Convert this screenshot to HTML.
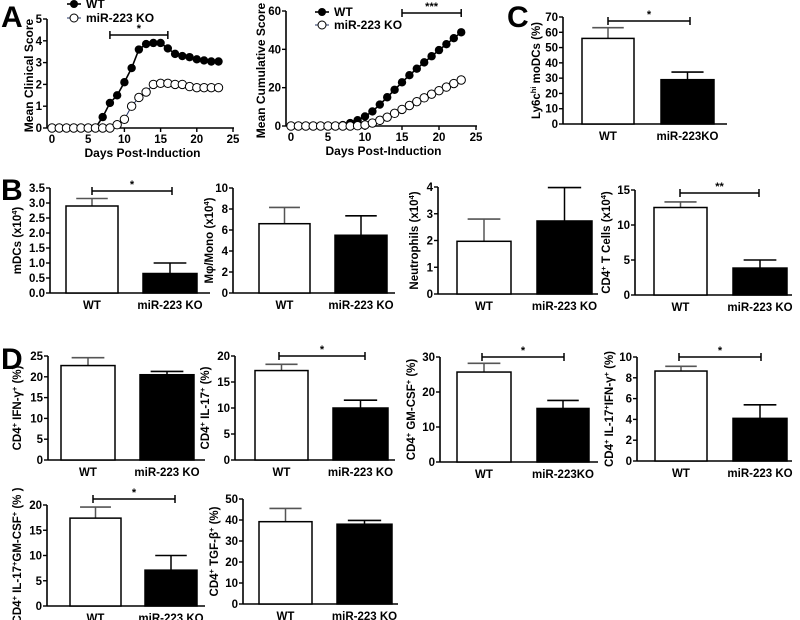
<!DOCTYPE html>
<html><head><meta charset="utf-8">
<style>
html,body{margin:0;padding:0;background:#fff;}
svg{display:block;font-family:"Liberation Sans",sans-serif;}
</style></head>
<body>
<svg id="fig" width="800" height="620" viewBox="0 0 800 620" xmlns="http://www.w3.org/2000/svg">
<text x="1" y="27" font-size="30" font-weight="bold">A</text>
<text x="1" y="200" font-size="30" font-weight="bold">B</text>
<text x="507" y="27" font-size="30" font-weight="bold">C</text>
<text x="1" y="369" font-size="30" font-weight="bold">D</text>
</svg>
<script>
// ---- Panel A data ----
const days = [0,1,2,3,4,5,6,7,8,9,10,11,12,13,14,15,16,17,18,19,20,21,22,23];
const clinicalWT = [0,0,0,0,0,0,0,0.5,1.15,1.5,2.1,2.75,3.6,3.85,3.9,3.9,3.65,3.4,3.3,3.25,3.15,3.1,3.05,3.05];
const clinicalKO = [0,0,0,0,0,0,0,0,0,0.15,0.4,1.0,1.4,1.65,2.0,2.05,2.05,2.0,2.0,1.9,1.85,1.85,1.85,1.85];
const cumulativeWT = [0,0,0,0,0,0,0,0.5,1.5,3,5,7.6,11.2,15,18.9,22.8,26.5,29.9,33.2,36.4,39.6,42.7,45.8,48.9];
const cumulativeKO = [0,0,0,0,0,0,0,0,0,0.15,0.55,1.55,2.95,4.6,6.6,8.65,10.7,12.7,14.7,16.6,18.45,20.3,22.15,24];
const dayTicks = [0,5,10,15,20,25];
const clinicalTicks = [0,1,2,3,4,5];
const cumulativeTicks = [0,20,40,60];

// ---- Bar data ----
const groups = ['WT','miR-223 KO'];
const groupsC = ['WT','miR-223KO'];
const moDCValues = [56,29], moDCErrors = [63,34], moDCTicks = [0,10,20,30,40,50,60,70];
const mdcValues = [2.9,0.65], mdcErrors = [3.15,1.0], mdcTicks = [0,0.5,1,1.5,2,2.5,3,3.5];
const macroValues = [6.6,5.5], macroErrors = [8.15,7.35], macroTicks = [0,2,4,6,8,10];
const neutroValues = [1.97,2.73], neutroErrors = [2.8,3.98], neutroTicks = [0,1,2,3,4];
const cd4Values = [12.5,3.85], cd4Errors = [13.3,5.0], cd4Ticks = [0,5,10,15];
const ifngValues = [22.7,20.5], ifngErrors = [24.6,21.3], ifngTicks = [0,5,10,15,20,25];
const il17Values = [17.2,10], il17Errors = [18.4,11.5], il17Ticks = [0,5,10,15,20];
const gmcsfValues = [25.7,15.3], gmcsfErrors = [28.2,17.6], gmcsfTicks = [0,10,20,30];
const il17ifngValues = [8.65,4.1], il17ifngErrors = [9.1,5.4], il17ifngTicks = [0,2,4,6,8,10];
const il17gmValues = [17.4,7.1], il17gmErrors = [19.6,10], il17gmTicks = [0,5,10,15,20];
const tgfbValues = [39.2,38], tgfbErrors = [45.5,39.8], tgfbTicks = [0,10,20,30,40,50];

const NS = 'http://www.w3.org/2000/svg';
const svg = document.getElementById('fig');
function mk(tag, attrs, parent, txt) {
  const e = document.createElementNS(NS, tag);
  for (const k in attrs) e.setAttribute(k, attrs[k]);
  if (txt !== undefined) e.textContent = txt;
  (parent || svg).appendChild(e);
  return e;
}
function label(parent, x, y, txt, size, anchor, rot) {
  const t = mk('text', {x:x, y:y, 'font-size':size, 'font-weight':'bold', 'text-anchor':anchor||'middle'}, parent);
  if (rot) t.setAttribute('transform', 'rotate(-90 ' + x + ' ' + y + ')');
  t.innerHTML = txt;
  return t;
}

function barPanel(name, cfg, cats, values, errors, ticks, title, dec) {
  const g = mk('g', {});
  
  
  const maxV = ticks[ticks.length-1];
  const ys = v => cfg.y0 - (v / maxV) * (cfg.y0 - cfg.yTop);
  const yax = mk('line', {x1:cfg.ax, y1:cfg.yTop, x2:cfg.ax, y2:cfg.y0, stroke:'#000', 'stroke-width':1.6}, g);
  
  
  ticks.forEach(t => {
    const y = ys(t);
    mk('line', {x1:cfg.ax-4, y1:y, x2:cfg.ax, y2:y, stroke:'#000', 'stroke-width':1.4}, g);
    const tl = label(g, cfg.ax-5, y+4, dec ? t.toFixed(1) : String(t), 11.5, 'end');
    
    
  });
  const xax = mk('line', {x1:cfg.ax, y1:cfg.y0, x2:cfg.xEnd, y2:cfg.y0, stroke:'#000', 'stroke-width':1.6}, g);
  
  
  const bx = [cfg.wt, cfg.ko];
  values.forEach((v, i) => {
    const x1 = bx[i][0], x2 = bx[i][1], cx = (x1+x2)/2;
    const ey = ys(errors[i]);
    const el = mk('line', {x1:cx, y1:ey, x2:cx, y2:ys(v), stroke: i ? '#000' : '#555', 'stroke-width':1.5}, g);
    
    
    mk('line', {x1:cx-(x2-x1)/3.3, y1:ey, x2:cx+(x2-x1)/3.3, y2:ey, stroke: i ? '#000' : '#555', 'stroke-width':1.6}, g);
    const r = mk('rect', {x:x1, y:ys(v), width:x2-x1, height:cfg.y0-ys(v), fill: i ? '#000' : '#fff', stroke:'#000', 'stroke-width':1.5}, g);
    
    
    const cl = label(g, cx, cfg.y0+16, cats[i], 11.5, 'middle');
    
    
  });
  if (cfg.sig) {
    const s = cfg.sig;
    const sg = mk('g', {}, g);
    
    
    mk('line', {x1:s[0], y1:s[2], x2:s[1], y2:s[2], stroke:'#000', 'stroke-width':1.5}, sg);
    mk('line', {x1:s[0], y1:s[2]-4, x2:s[0], y2:s[2]+4, stroke:'#000', 'stroke-width':1.5}, sg);
    mk('line', {x1:s[1], y1:s[2]-4, x2:s[1], y2:s[2]+4, stroke:'#000', 'stroke-width':1.5}, sg);
    label(sg, (s[0]+s[1])/2, s[2]-3, s[3], 11, 'middle');
  }
  const yt = label(g, cfg.tx, (cfg.y0+cfg.yTop)/2, title, 11.5, 'middle', true);
  
  
}

const sup = s => '<tspan baseline-shift="super" font-size="7.5">' + s + '</tspan>';

barPanel('panel-c-ly6c-modcs', {ax:563, y0:124, yTop:17, xEnd:727, wt:[582,634], ko:[661,714], sig:[608,690,21,'*'], tx:540},
  groupsC, moDCValues, moDCErrors, moDCTicks, 'Ly6c' + sup('hi') + ' moDCs (%)');
barPanel('panel-b-mdcs', {ax:50, y0:293, yTop:188, xEnd:210, wt:[66,118], ko:[143,197], sig:[92,172,191,'*'], tx:21},
  groups, mdcValues, mdcErrors, mdcTicks, 'mDCs (x10' + sup('4') + ')', true);
barPanel('panel-b-macrophages', {ax:233, y0:293, yTop:188, xEnd:395, wt:[259,310], ko:[335,387], tx:213},
  groups, macroValues, macroErrors, macroTicks, 'Mφ/Mono (x10' + sup('4') + ')');
barPanel('panel-b-neutrophils', {ax:438, y0:294, yTop:187, xEnd:598, wt:[457,511], ko:[537,592], tx:418},
  groups, neutroValues, neutroErrors, neutroTicks, 'Neutrophils (x10' + sup('4') + ')');
barPanel('panel-b-cd4-t-cells', {ax:635, y0:295, yTop:190, xEnd:792, wt:[654,707], ko:[733,787], sig:[680,759,193,'**'], tx:610},
  groups, cd4Values, cd4Errors, cd4Ticks, 'CD4' + sup('+') + ' T Cells (x10' + sup('4') + ')');
barPanel('panel-d-ifng', {ax:48, y0:460, yTop:356, xEnd:205, wt:[61,115], ko:[140,194], tx:21},
  groups, ifngValues, ifngErrors, ifngTicks, 'CD4' + sup('+') + ' IFN-γ' + sup('+') + ' (%)');
barPanel('panel-d-il17', {ax:235, y0:460, yTop:356, xEnd:395, wt:[255,308], ko:[333,388], sig:[279,365,356,'*'], tx:209},
  groups, il17Values, il17Errors, il17Ticks, 'CD4' + sup('+') + ' IL-17' + sup('+') + ' (%)');
barPanel('panel-d-gmcsf', {ax:440, y0:462, yTop:357, xEnd:598, wt:[457,511], ko:[537,589], sig:[482,564,357,'*'], tx:415},
  groupsC, gmcsfValues, gmcsfErrors, gmcsfTicks, 'CD4' + sup('+') + ' GM-CSF' + sup('+') + ' (%)');
barPanel('panel-d-il17-ifng', {ax:637, y0:461, yTop:357, xEnd:792, wt:[655,707], ko:[733,787], sig:[679,761,357,'*'], tx:613},
  groups, il17ifngValues, il17ifngErrors, il17ifngTicks, 'CD4' + sup('+') + ' IL-17' + sup('+') + 'IFN-γ' + sup('+') + ' (%)');
barPanel('panel-d-il17-gmcsf', {ax:47, y0:606, yTop:505, xEnd:205, wt:[70,121], ko:[145,197], sig:[93,175,499,'*'], tx:21},
  groups, il17gmValues, il17gmErrors, il17gmTicks, 'CD4' + sup('+') + ' IL-17' + sup('+') + 'GM-CSF' + sup('+') + ' (% )');
barPanel('panel-d-tgfb', {ax:243, y0:604, yTop:499, xEnd:398, wt:[259,312], ko:[337,392], tx:218},
  groups, tgfbValues, tgfbErrors, tgfbTicks, 'CD4' + sup('+') + ' TGF-β' + sup('+') + ' (%)');

function linePanel(name, cfg, wt, ko, yTicks, title) {
  const g = mk('g', {});
  
  
  const maxY = yTicks[yTicks.length-1];
  const xs = d => cfg.x0 + d / 25 * (cfg.x25 - cfg.x0);
  const ys = v => cfg.y0 - v / maxY * (cfg.y0 - cfg.yTop);
  mk('line', {x1:cfg.ax, y1:cfg.yTop, x2:cfg.ax, y2:cfg.y0, stroke:'#000', 'stroke-width':1.6}, g);
  mk('line', {x1:cfg.ax, y1:cfg.y0, x2:cfg.x25+1, y2:cfg.y0, stroke:'#000', 'stroke-width':1.6}, g);
  yTicks.forEach(t => {
    mk('line', {x1:cfg.ax-4, y1:ys(t), x2:cfg.ax, y2:ys(t), stroke:'#000', 'stroke-width':1.4}, g);
    const tl = label(g, cfg.ax-5, ys(t)+4, String(t), 11.5, 'end');
    
    
  });
  dayTicks.forEach(t => {
    mk('line', {x1:xs(t), y1:cfg.y0, x2:xs(t), y2:cfg.y0+4, stroke:'#000', 'stroke-width':1.4}, g);
    const tl = label(g, xs(t), cfg.y0+15, String(t), 11.5, 'middle');
    
    
  });
  const xt = label(g, (cfg.x0+cfg.x25)/2, cfg.y0+29, 'Days Post-Induction', 12, 'middle');
  
  
  const yt = label(g, cfg.tx, (cfg.y0+cfg.yTop)/2+2, title, 12, 'middle', true);
  
  
  const ptsKO = days.map((d,i) => xs(d) + ',' + ys(ko[i])).join(' ');
  const ptsWT = days.map((d,i) => xs(d) + ',' + ys(wt[i])).join(' ');
  const lk = mk('polyline', {points:ptsKO, fill:'none', stroke:'#223366', 'stroke-width':1}, g);
  
  
  const lw = mk('polyline', {points:ptsWT, fill:'none', stroke:'#000', 'stroke-width':1.6}, g);
  
  
  days.forEach((d,i) => {
    const p = mk('circle', {cx:xs(d), cy:ys(wt[i]), r:4.2, fill:'#000'}, g);
    
    
  });
  days.forEach((d,i) => {
    const p = mk('circle', {cx:xs(d), cy:ys(ko[i]), r:4.2, fill:'#fff', stroke:'#000', 'stroke-width':1}, g);
    
    
  });
  const s = cfg.sig;
  const sg = mk('g', {}, g);
  
  
  mk('line', {x1:xs(s[0]), y1:s[2], x2:xs(s[1]), y2:s[2], stroke:'#000', 'stroke-width':1.5}, sg);
  mk('line', {x1:xs(s[0]), y1:s[2]-4, x2:xs(s[0]), y2:s[2]+4, stroke:'#000', 'stroke-width':1.5}, sg);
  mk('line', {x1:xs(s[1]), y1:s[2]-4, x2:xs(s[1]), y2:s[2]+4, stroke:'#000', 'stroke-width':1.5}, sg);
  label(sg, (xs(s[0])+xs(s[1]))/2, s[2]-3, s[3], 11, 'middle');
  const lg = mk('g', {}, g);
  
  
  const L = cfg.leg;
  mk('line', {x1:L[0]-7, y1:L[1], x2:L[0]+7, y2:L[1], stroke:'#000', 'stroke-width':1.6}, lg);
  mk('circle', {cx:L[0], cy:L[1], r:4, fill:'#000'}, lg);
  label(lg, L[0]+12, L[1]+4, 'WT', 12, 'start');
  mk('line', {x1:L[0]-7, y1:L[1]+L[2], x2:L[0]+7, y2:L[1]+L[2], stroke:'#223366', 'stroke-width':1}, lg);
  mk('circle', {cx:L[0], cy:L[1]+L[2], r:4, fill:'#fff', stroke:'#000', 'stroke-width':1}, lg);
  label(lg, L[0]+12, L[1]+L[2]+4, 'miR-223 KO', 12, 'start');
}

linePanel('panel-a-clinical-score', {ax:47, x0:52, x25:233, y0:128, yTop:19, tx:33, sig:[8,16,35,'*'], leg:[74,4,14]},
  clinicalWT, clinicalKO, clinicalTicks, 'Mean Clinical Score');
linePanel('panel-a-cumulative-score', {ax:286, x0:291, x25:476, y0:126, yTop:11, tx:265, sig:[15,23,13,'***'], leg:[322,12,13]},
  cumulativeWT, cumulativeKO, cumulativeTicks, 'Mean Cumulative Score');
</script>
</body></html>
